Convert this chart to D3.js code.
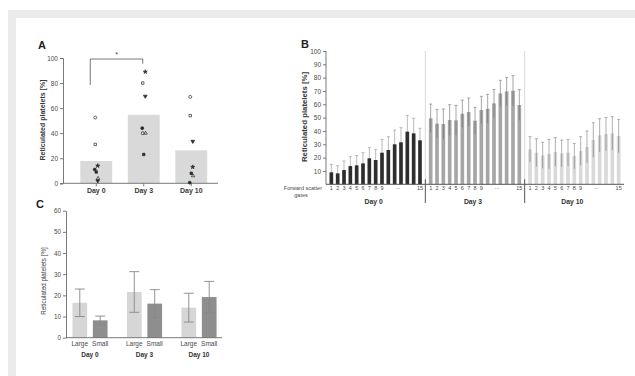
<!DOCTYPE html>
<html><head><meta charset="utf-8">
<script src="https://cdn.jsdelivr.net/npm/d3@7"></script>
<style>
body{margin:0;background:#fff}
svg{display:block;font-family:"Liberation Sans",Arial,sans-serif}
</style>
</head><body>
<svg id="fig" width="635" height="376"></svg>
<script>
// ---- Panel A: reticulated platelets per donor ----
const daysA = ["Day 0", "Day 3", "Day 10"];
const meanA = [17.8, 54.7, 26.3];
const donorShapes = ["circleOpen", "squareOpen", "triDownFilled", "starFilled", "squareFilled", "triOpen", "circleFilled"];
const donorD0 = [52.5, 31, 2, 14, 9, 4, 11];
const donorD3 = [40, 80, 69.5, 89, 23, 40, 44];
const donorD10 = [69, 54, 33.5, 13, 8, 6, 0.5];
const ticksA = [0, 20, 40, 60, 80, 100];

// ---- Panel B: by forward scatter gate ----
const daysB = ["Day 0", "Day 3", "Day 10"];
const gates = d3.range(1, 16);
const gateLabels = ["1", "2", "3", "4", "5", "6", "7", "8", "9", "", "", "", "", "", "15"];
const day0Mean = [9, 8.2, 10.7, 13.7, 14.2, 15.7, 19.5, 18.2, 23.7, 25.7, 30, 31.5, 39.5, 38.2, 33];
const day0Sd = [6, 5.8, 6.8, 7, 7.3, 8, 8.2, 8, 10, 10, 10.7, 11, 12.2, 11.3, 9];
const day3Mean = [49.5, 45.5, 45.2, 48.2, 48, 53, 54.2, 47.7, 55.7, 56.7, 60.7, 68.2, 69.7, 70.2, 59.5];
const day3Sd = [10.7, 10.7, 11.3, 11.5, 11.2, 10.2, 10.5, 10, 10.3, 10.8, 10.5, 9.8, 10.5, 11.3, 11.5];
const day10Mean = [26.2, 23.7, 21.7, 22.7, 24.2, 23.2, 23.7, 21.2, 25, 28, 33.2, 36.7, 37.7, 38.2, 36.2];
const day10Sd = [9.5, 10.5, 9.8, 11, 10.8, 10, 10, 9.5, 10.7, 12, 13, 12.5, 12.5, 12.5, 12.5];
const ticksB = [10, 20, 30, 40, 50, 60, 70, 80, 90, 100];

// ---- Panel C: large vs small platelets ----
const daysC = ["Day 0", "Day 3", "Day 10"];
const sizesC = ["Large", "Small"];
const largeMean = [16.5, 21.6, 14.2];
const largeSd = [6.5, 9.6, 6.8];
const smallMean = [8.2, 16.1, 19.2];
const smallSd = [2, 6.6, 7.4];
const ticksC = [0, 10, 20, 30, 40, 50, 60];

const svg = d3.select("#fig");
const axisCol = "#6b6b6b", textCol = "#4a4a4a";

// page frame
svg.append("rect").attr("x", 8).attr("y", 10).attr("width", 627).attr("height", 366).attr("fill", "#ebebeb");
svg.append("rect").attr("x", 16).attr("y", 18).attr("width", 619).attr("height", 358).attr("fill", "#fff");

function panelLetter(t, x, y) {
  svg.append("text").attr("x", x).attr("y", y).text(t)
    .attr("font-size", 11).attr("font-weight", "bold").attr("fill", "#222");
}
function yTitle(x, yc, size, weight) {
  svg.append("text").attr("transform", `translate(${x},${yc}) rotate(-90)`)
    .attr("text-anchor", "middle").attr("font-size", size).attr("font-weight", weight)
    .attr("fill", "#3a3a3a").text("Reticulated platelets [%]");
}
function styleAxis(g, fs) {
  g.selectAll("path,line").attr("stroke", axisCol).attr("stroke-width", 0.9);
  g.selectAll("text").attr("fill", textCol).attr("font-size", fs).attr("font-family", "Liberation Sans,Arial,sans-serif");
}

// ================= Panel A =================
{
  const y = d3.scaleLinear().domain([0, 100]).range([183.3, 58]);
  const x = d3.scaleBand().domain(daysA).range([72.5, 215]).paddingInner(0.33).paddingOuter(0.165);
  panelLetter("A", 38, 49);
  yTitle(45, 120, 7, "bold");

  const gy = svg.append("g").attr("transform", "translate(63,0)")
    .call(d3.axisLeft(y).tickValues(ticksA).tickSize(3).tickPadding(2));
  styleAxis(gy, 6.5);

  svg.append("g").selectAll("rect").data(meanA).join("rect")
    .attr("x", (d, i) => x(daysA[i])).attr("width", x.bandwidth())
    .attr("y", d => y(d)).attr("height", d => y(0) - y(d)).attr("fill", "#d9d9d9");

  const gx = svg.append("g").attr("transform", `translate(0,${y(0)})`)
    .call(d3.axisBottom(x).tickSize(3).tickPadding(2).tickSizeOuter(0));
  gx.select(".domain").attr("d", `M63,0H218`);
  styleAxis(gx, 7);
  gx.selectAll("text").attr("font-weight", "bold").attr("fill", "#3a3a3a");

  // donor markers
  const jitter = [-1, -1, 1.5, 1.5, 0, 1.8, -1.5];
  const perDay = [donorD0, donorD3, donorD10];
  const sym = {
    circleOpen: [d3.symbolCircle, false, 0, 7], squareOpen: [d3.symbolSquare, false, 0, 6],
    triDownFilled: [d3.symbolTriangle, true, 180, 6], starFilled: [d3.symbolStar, true, 0, 5],
    squareFilled: [d3.symbolSquare, true, 0, 6], triOpen: [d3.symbolTriangle, false, 0, 5],
    circleFilled: [d3.symbolCircle, true, 0, 7]
  };
  const gm = svg.append("g");
  perDay.forEach((vals, di) => {
    vals.forEach((v, k) => {
      const s = sym[donorShapes[k]];
      const cx = x(daysA[di]) + x.bandwidth() / 2 + jitter[k];
      gm.append("path").attr("d", d3.symbol().type(s[0]).size(s[3])())
        .attr("transform", `translate(${cx},${y(v)}) rotate(${s[2]})`)
        .attr("fill", s[1] ? "#2b2b2b" : "none").attr("stroke", "#2b2b2b").attr("stroke-width", 0.7);
    });
  });

  // significance bracket Day 0 vs Day 3
  const x0 = x("Day 0") + x.bandwidth() / 2 - 6, x1 = x("Day 3") + x.bandwidth() / 2 - 1;
  svg.append("path").attr("d", `M${x0},${y(78.5)}V${y(99.2)}H${x1}V${y(95.5)}`)
    .attr("fill", "none").attr("stroke", "#555").attr("stroke-width", 0.8);
  svg.append("text").attr("x", (x0 + x1) / 2).attr("y", y(99.2) - 2).attr("text-anchor", "middle")
    .attr("font-size", 7).attr("fill", "#333").text("*");
}

// ================= Panel B =================
{
  const y = d3.scaleLinear().domain([0, 100]).range([184.3, 51]);
  const xo = d3.scaleBand().domain(daysB).range([326, 624]);
  const xi = d3.scaleBand().domain(gates).range([0, xo.bandwidth()]).paddingInner(0.42).paddingOuter(0.555);
  panelLetter("B", 301, 48);
  yTitle(307, 117, 7.8, "bold");

  const groups = [
    { day: "Day 0", mean: day0Mean, sd: day0Sd, fill: "#2e2e2e", up: "#a8a8a8", inner: "#2e2e2e" },
    { day: "Day 3", mean: day3Mean, sd: day3Sd, fill: "#a6a6a6", up: "#8f8f8f", inner: "#7a7a7a" },
    { day: "Day 10", mean: day10Mean, sd: day10Sd, fill: "#d9d9d9", up: "#9a9a9a", inner: "#8c8c8c" }
  ];

  // light separators between days
  [xo("Day 3"), xo("Day 10")].forEach(sx => {
    svg.append("line").attr("x1", sx).attr("x2", sx).attr("y1", y(100)).attr("y2", y(0))
      .attr("stroke", "#cfcfcf").attr("stroke-width", 0.8);
  });

  groups.forEach(g => {
    const gg = svg.append("g").attr("transform", `translate(${xo(g.day)},0)`);
    gg.selectAll("rect").data(g.mean).join("rect")
      .attr("x", (d, i) => xi(gates[i])).attr("width", xi.bandwidth())
      .attr("y", d => y(d)).attr("height", d => y(0) - y(d)).attr("fill", g.fill);
    const cx = i => xi(gates[i]) + xi.bandwidth() / 2;
    gg.selectAll("path.up").data(g.mean).join("path").attr("class", "up")
      .attr("d", (d, i) => `M${cx(i)},${y(d)}V${y(d + g.sd[i])}M${cx(i) - 1.5},${y(d + g.sd[i])}H${cx(i) + 1.5}`)
      .attr("stroke", g.up).attr("stroke-width", 0.8).attr("fill", "none");
    gg.selectAll("path.dn").data(g.mean).join("path").attr("class", "dn")
      .attr("d", (d, i) => `M${cx(i)},${y(d)}V${y(d - g.sd[i])}`)
      .attr("stroke", g.inner).attr("stroke-width", 0.8).attr("fill", "none");

    // gate numbers
    gg.selectAll("text.gl").data(gates).join("text").attr("class", "gl")
      .attr("x", d => xi(d) + xi.bandwidth() / 2).attr("y", 190)
      .attr("text-anchor", "middle").attr("font-size", 5.5).attr("fill", textCol)
      .text((d, i) => gateLabels[i]);
    gg.append("text").attr("x", (xi(11) + xi(12)) / 2 + xi.bandwidth() / 2).attr("y", 189)
      .attr("text-anchor", "middle").attr("font-size", 5.5).attr("fill", textCol).text("...");
    gg.append("text").attr("x", xo.bandwidth() / 2 - 2).attr("y", 204)
      .attr("text-anchor", "middle").attr("font-size", 6.8).attr("font-weight", "bold").attr("fill", "#333").text(g.day);
  });

  const gy = svg.append("g").attr("transform", "translate(326,0)")
    .call(d3.axisLeft(y).tickValues(ticksB).tickSize(3).tickPadding(2).tickSizeOuter(0));
  gy.select(".domain").attr("d", `M0,${y(100)}V${y(0)}`);
  styleAxis(gy, 6.5);

  svg.append("line").attr("x1", 326).attr("x2", 624).attr("y1", y(0)).attr("y2", y(0))
    .attr("stroke", "#555").attr("stroke-width", 1);
  [xo("Day 3"), xo("Day 10")].forEach(sx => {
    svg.append("line").attr("x1", sx).attr("x2", sx).attr("y1", y(0) - 5).attr("y2", 203)
      .attr("stroke", "#555").attr("stroke-width", 1);
  });

  svg.append("text").attr("x", 322).attr("y", 190).attr("text-anchor", "end")
    .attr("font-size", 5.5).attr("fill", textCol).text("Forward scatter");
  svg.append("text").attr("x", 301).attr("y", 196.5).attr("text-anchor", "middle")
    .attr("font-size", 5.5).attr("fill", textCol).text("gates");
}

// ================= Panel C =================
{
  const y = d3.scaleLinear().domain([0, 60]).range([337.7, 210.7]);
  const xo = d3.scaleBand().domain(daysC).range([62.75, 226.25]);
  const xi = d3.scaleBand().domain(sizesC).range([0, xo.bandwidth()]).paddingInner(0.28).paddingOuter(0.475);
  panelLetter("C", 36, 208);
  yTitle(45.5, 281, 6.3, "normal");

  const gy = svg.append("g").attr("transform", "translate(66,0)")
    .call(d3.axisLeft(y).tickValues(ticksC).tickSize(3).tickPadding(2).tickSizeOuter(0));
  styleAxis(gy, 6.3);

  const series = [
    { size: "Large", mean: largeMean, sd: largeSd, fill: "#d6d6d6" },
    { size: "Small", mean: smallMean, sd: smallSd, fill: "#8e8e8e" }
  ];
  series.forEach(s => {
    const g = svg.append("g");
    g.selectAll("rect").data(s.mean).join("rect")
      .attr("x", (d, i) => xo(daysC[i]) + xi(s.size)).attr("width", xi.bandwidth())
      .attr("y", d => y(d)).attr("height", d => y(0) - y(d)).attr("fill", s.fill);
    g.selectAll("path").data(s.mean).join("path")
      .attr("d", (d, i) => {
        const cx = xo(daysC[i]) + xi(s.size) + xi.bandwidth() / 2;
        const t = y(d + s.sd[i]), b = y(d - s.sd[i]);
        return `M${cx},${t}V${b}M${cx - 5},${t}H${cx + 5}M${cx - 5},${b}H${cx + 5}`;
      })
      .attr("stroke", "#888").attr("stroke-width", 0.9).attr("fill", "none");
    g.selectAll("text").data(daysC).join("text")
      .attr("x", d => xo(d) + xi(s.size) + xi.bandwidth() / 2).attr("y", 345.5)
      .attr("text-anchor", "middle").attr("font-size", 6.5).attr("fill", textCol).text(s.size);
  });

  svg.append("line").attr("x1", 66).attr("x2", 222).attr("y1", y(0)).attr("y2", y(0))
    .attr("stroke", axisCol).attr("stroke-width", 0.9);
  svg.append("g").selectAll("text").data(daysC).join("text")
    .attr("x", d => xo(d) + xo.bandwidth() / 2).attr("y", 356.5)
    .attr("text-anchor", "middle").attr("font-size", 6.5).attr("font-weight", "bold")
    .attr("fill", "#333").text(d => d);
}
</script>
</body></html>
